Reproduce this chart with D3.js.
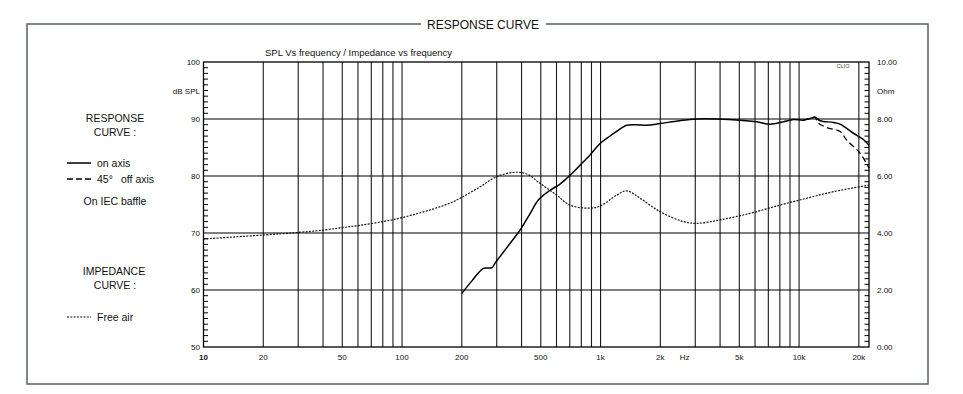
<!DOCTYPE html>
<html><head><meta charset="utf-8">
<script src="https://cdn.jsdelivr.net/npm/d3@7"></script>
<style>body{margin:0;background:#fff}svg{display:block;font-family:Arial,"Liberation Sans",sans-serif}</style>
</head><body><svg id="c" width="963" height="394"></svg>
<script>
// ---- data ----
const onAxisFreq = [200, 225, 257, 283, 294, 330, 365, 393, 408, 440, 486, 557, 620, 676, 730, 788, 885, 995, 1074, 1200, 1355, 1500, 1708, 1994, 2500, 3053, 3846, 5045, 6125, 7146, 8340, 9360, 10510, 11360, 12040, 12760, 14890, 16090, 18770, 21080, 22500];
const onAxisDb   = [59.4, 61.6, 63.8, 63.9, 64.7, 67.0, 69.0, 70.5, 71.4, 73.3, 75.8, 77.5, 78.5, 79.6, 80.7, 81.9, 83.7, 85.7, 86.6, 87.8, 88.9, 89.0, 88.9, 89.2, 89.7, 90.0, 90.0, 89.8, 89.5, 89.1, 89.5, 89.9, 89.8, 90.1, 90.3, 89.7, 89.4, 89.1, 87.5, 86.4, 85.4];
const offAxisFreq = [10510, 11360, 12040, 12510, 13790, 16090, 17380, 20280, 22500];
const offAxisDb   = [89.8, 90.1, 90.3, 89.3, 88.5, 87.8, 86.3, 84.0, 81.4];
const impFreq = [10, 20, 30, 40, 50, 60, 80, 100, 143, 174.5, 200, 247, 300, 371, 425, 496, 601, 701, 885, 1000, 1206, 1355, 1581, 1994, 2612, 3053, 4000, 5665, 8020, 10930, 14890, 22500];
const impOhm  = [3.79, 3.93, 4.02, 4.10, 4.19, 4.26, 4.40, 4.54, 4.84, 5.05, 5.25, 5.62, 5.98, 6.13, 6.07, 5.74, 5.33, 4.98, 4.87, 4.95, 5.33, 5.48, 5.22, 4.75, 4.40, 4.34, 4.46, 4.69, 4.98, 5.22, 5.45, 5.68];
const xGrid = [20,30,40,50,60,70,80,90,100,200,300,400,500,600,700,800,900,1000,2000,3000,4000,5000,6000,7000,8000,9000,10000,20000];
const xLabels = [[10,"10"],[20,"20"],[50,"50"],[100,"100"],[200,"200"],[500,"500"],[1000,"1k"],[2000,"2k"],[5000,"5k"],[10000,"10k"],[20000,"20k"]];
const dbTicks = [50,60,70,80,90,100];
const ohmTicks = [0,2,4,6,8,10];

const svg = d3.select("#c");
const x = d3.scaleLog().domain([10, 22500]).range([203.5, 869]);
const y = d3.scaleLinear().domain([50, 100]).range([347, 62]);
const yR = d3.scaleLinear().domain([0, 10]).range([347, 62]);

// frame
svg.append("rect").attr("x",27).attr("y",24).attr("width",901).attr("height",360)
  .attr("fill","none").attr("stroke","#56605f").attr("stroke-width",1.5);
svg.append("rect").attr("x",421).attr("y",16).attr("width",125).attr("height",16).attr("fill","#fff");
svg.append("text").attr("x",483).attr("y",28.5).attr("text-anchor","middle")
  .attr("font-size",12).attr("fill","#111").text("RESPONSE CURVE");
svg.append("text").attr("x",265).attr("y",56).attr("font-size",9.5).attr("fill","#111")
  .text("SPL Vs frequency / Impedance vs frequency");

const g = svg.append("g");
// vertical grid
g.selectAll(".vg").data(xGrid).join("line")
  .attr("x1",d=>x(d)).attr("x2",d=>x(d)).attr("y1",62).attr("y2",347)
  .attr("stroke","#1a1a1a").attr("stroke-width",1.1);
// horizontal grid
g.selectAll(".hg").data([60,70,80,90]).join("line")
  .attr("x1",203.5).attr("x2",869).attr("y1",d=>y(d)).attr("y2",d=>y(d))
  .attr("stroke","#000").attr("stroke-width",1.1);
// border
g.append("rect").attr("x",203.5).attr("y",62).attr("width",865.5-200).attr("height",285)
  .attr("fill","none").attr("stroke","#000").attr("stroke-width",1.3);
// minor ticks
const dbMinor = d3.range(51,100).filter(d=>d%10!==0);
g.selectAll(".lt").data(dbMinor).join("line")
  .attr("x1",203.5).attr("x2",208).attr("y1",d=>y(d)).attr("y2",d=>y(d))
  .attr("stroke","#000").attr("stroke-width",1);
const ohmMinor = d3.range(1,50).map(i=>i*0.2).filter((d,i)=>(i+1)%10!==0);
g.selectAll(".rt").data(ohmMinor).join("line")
  .attr("x1",864.5).attr("x2",869).attr("y1",d=>yR(d)).attr("y2",d=>yR(d))
  .attr("stroke","#000").attr("stroke-width",1);

// axis labels
svg.selectAll(".dbl").data(dbTicks).join("text")
  .attr("x",200).attr("y",d=>y(d)+3).attr("text-anchor","end").attr("font-size",8).attr("fill","#111").text(d=>d);
svg.append("text").attr("x",200).attr("y",94).attr("text-anchor","end").attr("font-size",8).attr("fill","#111").text("dB SPL");
svg.selectAll(".ohl").data(ohmTicks).join("text")
  .attr("x",877).attr("y",d=>yR(d)+3).attr("font-size",8).attr("fill","#111").text(d=>d.toFixed(2));
svg.append("text").attr("x",877).attr("y",94).attr("font-size",8).attr("fill","#111").text("Ohm");
svg.selectAll(".xl").data(xLabels).join("text")
  .attr("x",d=>x(d[0])).attr("y",360).attr("text-anchor","middle").attr("font-size",8)
  .attr("font-weight",d=>d[0]===10?"bold":"normal").attr("fill","#111").text(d=>d[1]);
svg.append("text").attr("x",x(2650)).attr("y",360).attr("text-anchor","middle").attr("font-size",8).attr("fill","#111").text("Hz");
svg.append("text").attr("x",843).attr("y",68).attr("text-anchor","middle").attr("font-size",5.5).attr("fill","#444").text("CLIO");

// curves
const line = d3.line().curve(d3.curveCatmullRom.alpha(0.5));
const pts = (fs, vs, sc) => fs.map((f,i)=>[x(f), sc(vs[i])]);
g.append("path").attr("d",line(pts(impFreq, impOhm, yR))).attr("fill","none")
  .attr("stroke","#111").attr("stroke-width",1.2).attr("stroke-dasharray","2,1.3");
g.append("path").attr("d",line(pts(offAxisFreq, offAxisDb, y))).attr("fill","none")
  .attr("stroke","#000").attr("stroke-width",1.3).attr("stroke-dasharray","6,3.5");
g.append("path").attr("d",line(pts(onAxisFreq, onAxisDb, y))).attr("fill","none")
  .attr("stroke","#000").attr("stroke-width",1.5);

// legend
const lg = svg.append("g").attr("font-size",10.5).attr("fill","#111");
lg.append("text").attr("x",115).attr("y",122).attr("text-anchor","middle").text("RESPONSE");
lg.append("text").attr("x",115).attr("y",136).attr("text-anchor","middle").text("CURVE :");
lg.append("line").attr("x1",67).attr("x2",91).attr("y1",163).attr("y2",163).attr("stroke","#000").attr("stroke-width",1.5);
lg.append("text").attr("x",97).attr("y",167).text("on axis");
lg.append("line").attr("x1",67).attr("x2",91).attr("y1",179).attr("y2",179).attr("stroke","#000").attr("stroke-width",1.3).attr("stroke-dasharray","6,3");
lg.append("text").attr("x",97).attr("y",183).text("45°");
lg.append("text").attr("x",121).attr("y",183).text("off axis");
lg.append("text").attr("x",115).attr("y",205).attr("text-anchor","middle").text("On IEC baffle");
lg.append("text").attr("x",114).attr("y",275).attr("text-anchor","middle").text("IMPEDANCE");
lg.append("text").attr("x",115).attr("y",289).attr("text-anchor","middle").text("CURVE :");
lg.append("line").attr("x1",67).attr("x2",91).attr("y1",317).attr("y2",317).attr("stroke","#111").attr("stroke-width",1.1).attr("stroke-dasharray","2,1.3");
lg.append("text").attr("x",97).attr("y",321).text("Free air");
</script></body></html>
